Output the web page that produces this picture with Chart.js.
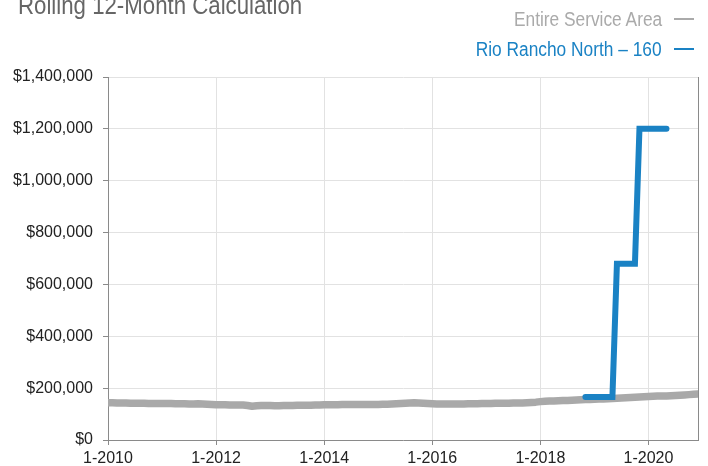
<!DOCTYPE html>
<html>
<head>
<meta charset="utf-8">
<script src="https://cdn.jsdelivr.net/npm/chart.js@4.4.1/dist/chart.umd.min.js"></script>
<style>
  html, body { margin: 0; padding: 0; background: #fff; overflow: hidden; }
  #wrap { position: relative; width: 708px; height: 466px; }
  #title { position: absolute; left: 18px; top: -10px; font: 26px "Liberation Sans", sans-serif; color: #666; white-space: nowrap;
           transform: scaleX(0.855); transform-origin: left center; }
  .leg { position: absolute; right: 14px; font: 20px "Liberation Sans", sans-serif; white-space: nowrap; }
  .leg .txt { display: inline-block; transform: scaleX(0.866); transform-origin: right center; }
  .leg .mark { display: inline-block; width: 20px; height: 2px; margin-left: 12px; vertical-align: middle; position: relative; top: -2px; }
  #leg1 { top: 8px; color: #aaaaaa; }
  #leg1 .mark { background: #aaaaaa; }
  #leg2 { top: 38px; color: #1a82c4; }
  #leg2 .mark { background: #1a82c4; }
</style>
</head>
<body>
<div id="wrap">
  <canvas id="chart" width="708" height="466"></canvas>
  <div id="title">Rolling 12-Month Calculation</div>
  <div class="leg" id="leg1"><span class="txt">Entire Service Area</span><span class="mark"></span></div>
  <div class="leg" id="leg2"><span class="txt">Rio Rancho North – 160</span><span class="mark"></span></div>
</div>
<script>
// months since 1-2010, one value per month (Jan 2010 .. Dec 2020)
const xTickLabels = ["1-2010", "1-2012", "1-2014", "1-2016", "1-2018", "1-2020"];

// Entire Service Area
const serviceArea = [
  144000, 144000, 143000, 143000, 143000, 142000, 142000, 142000, 142000, 141000, 141000, 141000, // 2010
  141000, 141000, 141000, 140000, 140000, 140000, 139000, 139000, 140000, 139000, 138000, 137000, // 2011
  136000, 136000, 136000, 135000, 135000, 135000, 135000, 133000, 130000, 132000, 133000, 133000, // 2012
  133000, 132000, 132000, 133000, 133000, 133000, 134000, 134000, 134000, 134000, 135000, 135000, // 2013
  136000, 136000, 136000, 136000, 137000, 137000, 137000, 137000, 137000, 137000, 137000, 137000, // 2014
  137000, 138000, 138000, 139000, 140000, 141000, 142000, 143000, 144000, 143000, 142000, 141000, // 2015
  140000, 139000, 139000, 139000, 139000, 139000, 139000, 139000, 140000, 140000, 140000, 141000, // 2016
  141000, 141000, 142000, 142000, 142000, 142000, 143000, 143000, 143000, 144000, 145000, 146000, // 2017
  148000, 149000, 150000, 150000, 151000, 152000, 152000, 153000, 154000, 155000, 156000, 156000, // 2018
  157000, 158000, 158000, 159000, 160000, 161000, 162000, 163000, 164000, 165000, 166000, 167000, // 2019
  168000, 169000, 170000, 170000, 170000, 171000, 172000, 173000, 174000, 175000, 176000, 177000  // 2020
];

// Rio Rancho North – 160, starts 11-2018 (month 106)
const rrStart = 106;
const rioRancho = [
  166000, 166000, 166000, 166000, 166000, 166000, 166000, // 11-2018 .. 5-2019
  680000, 680000, 680000, 680000, 680000,                 // 6-2019 .. 10-2019
  1200000, 1200000, 1200000, 1200000, 1200000, 1200000, 1200000 // 11-2019 .. 5-2020
];

const yMax = 1400000;
const yStep = 200000;

const gray = "#a9a9a9";
const blue = "#1a82c4";

const borderRight = {
  id: "borderRight",
  afterDraw(chart) {
    const { ctx, chartArea } = chart;
    ctx.save();
    ctx.strokeStyle = "#8a8a8a";
    ctx.lineWidth = 1;
    ctx.beginPath();
    ctx.moveTo(chartArea.right + 0.5, chartArea.top);
    ctx.lineTo(chartArea.right + 0.5, chartArea.bottom);
    ctx.stroke();
    ctx.restore();
  }
};

new Chart(document.getElementById("chart"), {
  type: "line",
  data: {
    datasets: [
      {
        label: "Rio Rancho North – 160",
        data: rioRancho.map((v, i) => ({ x: rrStart + i, y: v })),
        borderColor: blue,
        borderWidth: 6,
        borderCapStyle: "round",
        borderJoinStyle: "miter",
        pointRadius: 0,
        tension: 0
      },
      {
        label: "Entire Service Area",
        data: serviceArea.map((v, i) => ({ x: i, y: v })),
        borderColor: gray,
        borderWidth: 7.5,
        borderCapStyle: "round",
        borderJoinStyle: "round",
        pointRadius: 0,
        tension: 0
      }
    ]
  },
  options: {
    responsive: false,
    animation: false,
    layout: { padding: { top: 77, right: 10, left: 0, bottom: 0 } },
    plugins: { legend: { display: false }, tooltip: { enabled: false } },
    scales: {
      x: {
        type: "linear",
        min: 0,
        max: 131,
        ticks: {
          stepSize: 24,
          includeBounds: false,
          maxRotation: 0,
          padding: 4,
          color: "#222",
          font: { family: "Liberation Sans", size: 16 },
          callback: (v) => xTickLabels[v / 24] || ""
        },
        grid: { color: "#e2e2e2", tickColor: "#8a8a8a", tickLength: 5 },
        border: { color: "#8a8a8a" },
        afterFit: (s) => { s.height = 26; }
      },
      y: {
        min: 0,
        max: yMax,
        ticks: {
          stepSize: yStep,
          padding: 10,
          color: "#222",
          font: { family: "Liberation Sans", size: 16 },
          callback: (v) => "$" + v.toLocaleString("en-US")
        },
        grid: { color: "#e2e2e2", tickColor: "#8a8a8a", tickLength: 5 },
        border: { color: "#8a8a8a" },
        afterFit: (s) => { s.width = 108; }
      }
    }
  },
  plugins: [borderRight]
});
</script>
</body>
</html>
